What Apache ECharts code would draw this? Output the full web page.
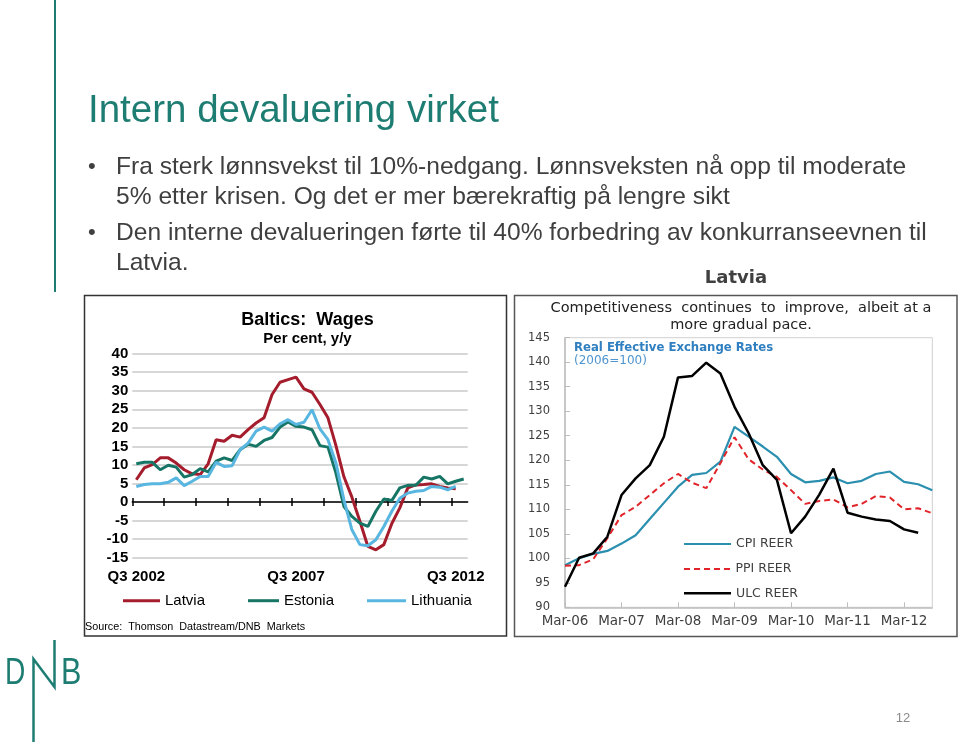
<!DOCTYPE html>
<html><head><meta charset="utf-8">
<script src="https://cdn.jsdelivr.net/npm/echarts@6/dist/echarts.min.js"></script>
<style>html,body{margin:0;padding:0;background:#fff}#c{width:960px;height:742px}</style>
</head><body><div id="c"></div>
<script>
// ---------- Left chart: Baltics wages, per cent y/y (quarterly) ----------
const wageQuarters = [
 'Q3 2002','Q4 2002',
 'Q1 2003','Q2 2003','Q3 2003','Q4 2003',
 'Q1 2004','Q2 2004','Q3 2004','Q4 2004',
 'Q1 2005','Q2 2005','Q3 2005','Q4 2005',
 'Q1 2006','Q2 2006','Q3 2006','Q4 2006',
 'Q1 2007','Q2 2007','Q3 2007','Q4 2007',
 'Q1 2008','Q2 2008','Q3 2008','Q4 2008',
 'Q1 2009','Q2 2009','Q3 2009','Q4 2009',
 'Q1 2010','Q2 2010','Q3 2010','Q4 2010',
 'Q1 2011','Q2 2011','Q3 2011','Q4 2011',
 'Q1 2012','Q2 2012','Q3 2012','Q4 2012'
];
const wageTickQuarters = wageQuarters.concat(['Q1 2013']);
const wageXLabels = ['Q3 2002','Q3 2007','Q3 2012'];
const wageYMin = -15, wageYMax = 40, wageYStep = 5;

const latvia = [6.0, 9.2, 10.1, 11.9, 11.9, 10.5, 8.7, 7.6, 7.4, 10.3,
 16.8, 16.4, 18.0, 17.5, 19.5, 21.3, 22.7, 29.0, 32.3, 33.0,
 33.7, 30.5, 29.6, 26.3, 22.7, 15.2, 6.8, 1.3, -5.2, -12.0,
 -12.9, -11.5, -5.8, -1.6, 3.8, 4.6, 4.7, 4.9, 4.2, 3.8, 3.6];
const estonia = [10.3, 10.7, 10.7, 8.7, 9.9, 9.4, 6.7, 7.4, 9.0, 8.1,
 11.0, 11.9, 11.2, 14.1, 15.6, 15.0, 16.6, 17.4, 20.2, 21.6,
 20.4, 20.2, 19.5, 15.2, 14.8, 7.8, -1.2, -3.9, -5.7, -6.6,
 -2.5, 0.8, 0.4, 3.8, 4.5, 4.5, 6.7, 6.2, 6.9, 4.9, 5.6, 6.2];
const lithuania = [4.2, 4.7, 4.9, 4.9, 5.3, 6.5, 4.4, 5.6, 6.9, 6.9,
 10.7, 9.6, 9.8, 14.1, 15.9, 19.1, 20.2, 19.1, 21.1, 22.2,
 20.9, 21.5, 24.9, 19.7, 16.8, 10.5, 0.6, -7.5, -11.5, -11.8,
 -10.2, -6.6, -2.5, 1.0, 2.4, 2.9, 3.1, 4.2, 4.0, 3.3, 4.2];

// ---------- Right chart: Latvia REER (2006=100), quarterly ----------
const reerQuarters = [
 'Mar-06','Jun-06','Sep-06','Dec-06',
 'Mar-07','Jun-07','Sep-07','Dec-07',
 'Mar-08','Jun-08','Sep-08','Dec-08',
 'Mar-09','Jun-09','Sep-09','Dec-09',
 'Mar-10','Jun-10','Sep-10','Dec-10',
 'Mar-11','Jun-11','Sep-11','Dec-11',
 'Mar-12','Jun-12','Sep-12'
];
const reerYMin = 90, reerYMax = 145, reerYStep = 5;
const cpiReer = [98.6, 100.0, 100.9, 101.5, 103.0, 104.7, 108.0, 111.3, 114.6, 117.0,
 117.4, 119.7, 126.8, 124.8, 122.8, 120.7, 117.2, 115.5, 115.8, 116.5,
 115.3, 115.8, 117.2, 117.7, 115.6, 115.1, 113.9];
const ppiReer = [98.5, 98.6, 99.8, 104.1, 108.8, 110.5, 112.9, 115.3, 117.2, 115.4,
 114.3, 119.4, 124.7, 120.2, 118.1, 116.6, 113.9, 111.1, 111.7, 112.0,
 110.4, 111.1, 112.7, 112.4, 110.0, 110.2, 109.2];
const ulcReer = [94.2, 100.1, 101.0, 104.4, 112.9, 116.3, 119.0, 124.8, 136.9, 137.2,
 139.9, 137.7, 130.9, 125.5, 119.0, 116.0, 105.1, 108.5, 113.0, 118.3,
 109.3, 108.5, 107.9, 107.6, 105.9, 105.2];

// ---------- Slide texts ----------
const slideTitle = 'Intern devaluering virket';
const bulletLines = [
 {bullet:true,  text:'Fra sterk lønnsvekst til 10%-nedgang. Lønnsveksten nå opp til moderate'},
 {bullet:false, text:'5% etter krisen. Og det er mer bærekraftig på lengre sikt'},
 {bullet:true,  text:'Den interne devalueringen førte til 40% forbedring av konkurranseevnen til'},
 {bullet:false, text:'Latvia.'}
];

const AR = 'Liberation Sans, Arial, sans-serif';
const DV = 'DejaVu Sans, sans-serif';
const TEAL = '#1e7d72';
const C_LAT = '#a51d2d', C_EST = '#167565', C_LIT = '#58b6e0';
const C_CPI = '#2b8fb0', C_PPI = '#e0242a', C_ULC = '#000000';

const chart = echarts.init(document.getElementById('c'), null, {renderer:'canvas', width:960, height:742});

const bulletY = [167, 197, 233, 263];
const graphics = [
 {type:'line', shape:{x1:55, y1:0, x2:55, y2:292}, style:{stroke:TEAL, lineWidth:2}},
 {type:'text', x:88, y:111, style:{text:slideTitle, fontFamily:AR, fontSize:38.5, fill:TEAL, textVerticalAlign:'middle'}},
 {type:'text', x:736, y:278, style:{text:'Latvia', fontFamily:DV, fontWeight:'bold', fontSize:18, fill:'#404040', textAlign:'center', textVerticalAlign:'middle'}},
 // chart frames
 {type:'rect', shape:{x:84.5, y:295.5, width:422, height:340.5}, style:{fill:'none', stroke:'#333', lineWidth:1.5}},
 {type:'rect', shape:{x:514.5, y:295.5, width:442.5, height:341}, style:{fill:'none', stroke:'#555', lineWidth:1.5}},
 // left chart titles
 {type:'text', x:307.5, y:320, style:{text:'Baltics:  Wages', fontFamily:AR, fontWeight:'bold', fontSize:18, fill:'#000', textAlign:'center', textVerticalAlign:'middle'}},
 {type:'text', x:307.5, y:338.5, style:{text:'Per cent, y/y', fontFamily:AR, fontWeight:'bold', fontSize:15, fill:'#000', textAlign:'center', textVerticalAlign:'middle'}},
 {type:'text', x:85, y:627, style:{text:'Source:  Thomson  Datastream/DNB  Markets', fontFamily:AR, fontSize:10.8, fill:'#000', textVerticalAlign:'middle'}},
 // right chart titles
 {type:'text', x:741, y:308.5, style:{text:'Competitiveness  continues  to  improve,  albeit at a', fontFamily:DV, fontSize:14.5, fill:'#222', textAlign:'center', textVerticalAlign:'middle'}},
 {type:'text', x:741, y:325, style:{text:'more gradual pace.', fontFamily:DV, fontSize:14.5, fill:'#222', textAlign:'center', textVerticalAlign:'middle'}},
 {type:'text', x:574, y:348, style:{text:'Real Effective Exchange Rates', fontFamily:DV, fontWeight:'bold', fontSize:11.7, fill:'#2f7fc1', textVerticalAlign:'middle'}},
 {type:'text', x:574, y:360.5, style:{text:'(2006=100)', fontFamily:DV, fontSize:12, fill:'#4f95cf', textVerticalAlign:'middle'}},
 // DNB logo
 {type:'text', x:5, y:674, scaleX:0.78, style:{text:'D', fontFamily:AR, fontSize:36, fill:TEAL, textVerticalAlign:'middle'}},
 {type:'text', x:61, y:674, scaleX:0.85, style:{text:'B', fontFamily:AR, fontSize:36, fill:TEAL, textVerticalAlign:'middle'}},
 {type:'polyline', shape:{points:[[33.5,742],[33.5,659],[54.5,687],[54.5,640]]}, style:{stroke:TEAL, lineWidth:2.5, fill:'none'}},
 // page number
 {type:'text', x:903, y:718, style:{text:'12', fontFamily:AR, fontSize:13, fill:'#8a8a8a', textAlign:'center', textVerticalAlign:'middle'}}
];
bulletLines.forEach(function(b, i){
  if (b.bullet) graphics.push({type:'text', x:88, y:bulletY[i], style:{text:'•', fontFamily:AR, fontSize:22, fill:'#404040', textVerticalAlign:'middle'}});
  graphics.push({type:'text', x:116, y:bulletY[i], style:{text:b.text, fontFamily:AR, fontSize:24.6, fill:'#3f3f3f', textVerticalAlign:'middle'}});
});

const ICON_SOLID = 'rect';
const ICON_DASH = 'path://M0,0h6v2h-6zM10,0h6v2h-6zM20,0h6v2h-6zM30,0h6v2h-6zM40,0h6v2h-6z';
const legBase = {orient:'horizontal', padding:0, selectedMode:false};
function leg(name, left, centerY, w, h, icon, ts){
  return Object.assign({}, legBase, {data:[{name:name, icon:icon}], left:left, top:centerY - ts.lineHeight / 2, itemWidth:w, itemHeight:h, textStyle:ts});
}
const tsL = {fontFamily:AR, fontSize:15, color:'#000', lineHeight:16};
const tsR = {fontFamily:DV, fontSize:12.5, color:'#404040', lineHeight:14};

const option = {
  animation:false,
  backgroundColor:'#ffffff',
  graphic:graphics,
  legend:[
    leg('Latvia', 123, 600.7, 37, 3, ICON_SOLID, tsL),
    leg('Estonia', 248, 600.7, 31, 3, ICON_SOLID, tsL),
    leg('Lithuania', 367, 600.7, 39, 3, ICON_SOLID, tsL),
    leg('CPI REER', 684, 544, 47, 2, ICON_SOLID, tsR),
    leg('PPI REER', 684, 569, 47, 2, ICON_DASH, tsR),
    leg('ULC REER', 684, 593.3, 47, 2.5, ICON_SOLID, tsR)
  ],
  grid:[
    {left:132.3, top:353.7, width:335.4, height:203.9},
    {left:565, top:337.7, width:367.3, height:269.6, show:true, borderColor:'#d0d0d0', borderWidth:1, backgroundColor:'transparent'}
  ],
  xAxis:[
    {gridIndex:0, type:'category', data:wageQuarters, boundaryGap:true, position:'bottom',
     axisLine:{show:false, onZero:false}, axisTick:{show:false}, splitLine:{show:false},
     axisLabel:{interval:function(i, v){ return wageXLabels.indexOf(v) >= 0; }, fontFamily:AR, fontWeight:'bold', fontSize:15, color:'#000', margin:12}},
    {gridIndex:0, type:'category', data:wageTickQuarters, boundaryGap:false, position:'bottom',
     axisLine:{show:true, onZero:true, onZeroAxisIndex:0, lineStyle:{color:'#000', width:1.5}},
     axisTick:{show:true, interval:3, length:4, lineStyle:{color:'#000', width:1.5}},
     axisLabel:{show:false}, splitLine:{show:false}},
    {gridIndex:0, type:'category', data:wageTickQuarters, boundaryGap:false, position:'bottom',
     axisLine:{show:false, onZero:true, onZeroAxisIndex:1},
     axisTick:{show:true, inside:true, interval:3, length:4, lineStyle:{color:'#000', width:1.5}},
     axisLabel:{show:false}, splitLine:{show:false}},
    {gridIndex:1, type:'category', data:reerQuarters, boundaryGap:false,
     axisLine:{show:true, onZero:false, lineStyle:{color:'#bdbdbd', width:1.5}},
     axisTick:{show:true, inside:true, interval:function(i, v){ return v.indexOf('Mar') === 0; }, length:5, lineStyle:{color:'#bdbdbd'}},
     axisLabel:{interval:function(i, v){ return v.indexOf('Mar') === 0; }, fontFamily:DV, fontSize:13.5, color:'#404040', margin:7},
     splitLine:{show:false}}
  ],
  yAxis:[
    {gridIndex:0, type:'value', min:wageYMin, max:wageYMax, interval:wageYStep,
     axisLine:{show:false}, axisTick:{show:false},
     axisLabel:{fontFamily:AR, fontWeight:'bold', fontSize:15, color:'#000', margin:4},
     splitLine:{show:true, lineStyle:{color:'#c8c8c8', width:1.5}}},
    {gridIndex:0, type:'value', min:wageYMin, max:wageYMax, interval:wageYStep, show:false},
    {gridIndex:1, type:'value', min:reerYMin, max:reerYMax, interval:reerYStep,
     axisLine:{show:true, onZero:false, lineStyle:{color:'#bdbdbd', width:1.5}},
     axisTick:{show:true, inside:true, length:5, lineStyle:{color:'#bdbdbd'}},
     axisLabel:{fontFamily:DV, fontSize:11.5, color:'#404040', margin:15},
     splitLine:{show:false}}
  ],
  series:[
    {type:'line', name:'Latvia', xAxisIndex:0, yAxisIndex:0, data:latvia, symbol:'none', lineStyle:{color:C_LAT, width:3}, itemStyle:{color:C_LAT}},
    {type:'line', name:'Estonia', xAxisIndex:0, yAxisIndex:0, data:estonia, symbol:'none', lineStyle:{color:C_EST, width:3}, itemStyle:{color:C_EST}},
    {type:'line', name:'Lithuania', xAxisIndex:0, yAxisIndex:0, data:lithuania, symbol:'none', lineStyle:{color:C_LIT, width:3}, itemStyle:{color:C_LIT}},
    {type:'line', name:'CPI REER', xAxisIndex:3, yAxisIndex:2, data:cpiReer, symbol:'none', lineStyle:{color:C_CPI, width:2.2}, itemStyle:{color:C_CPI}},
    {type:'line', name:'PPI REER', xAxisIndex:3, yAxisIndex:2, data:ppiReer, symbol:'none', lineStyle:{color:C_PPI, width:2, type:[6,4]}, itemStyle:{color:C_PPI}},
    {type:'line', name:'ULC REER', xAxisIndex:3, yAxisIndex:2, data:ulcReer, symbol:'none', lineStyle:{color:C_ULC, width:2.5}, itemStyle:{color:C_ULC}}
  ]
};
chart.setOption(option);
</script>
</body></html>
